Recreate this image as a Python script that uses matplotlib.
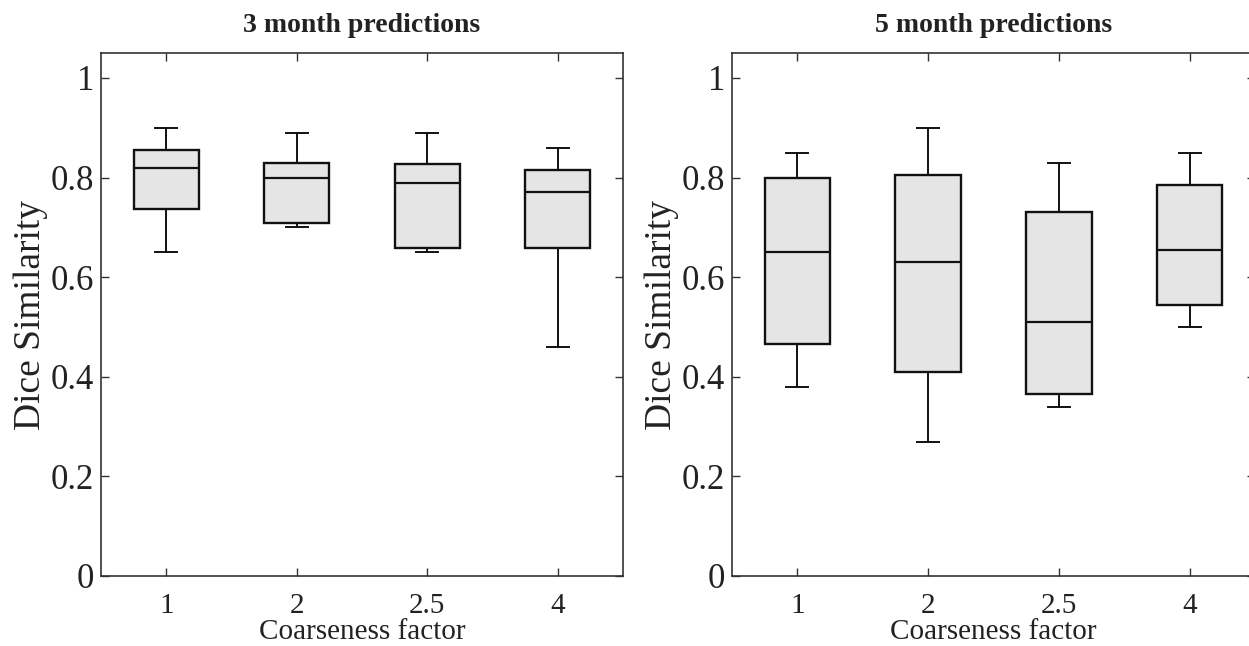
import matplotlib
matplotlib.use('Agg')
import matplotlib.pyplot as plt

plt.rcParams['font.family'] = ['Liberation Serif', 'DejaVu Serif']

# coarseness factors (categories)
factors = ['1', '2', '2.5', '4']

# 3 month predictions: whisker low, Q1, median, Q3, whisker high
m3_low = [0.65, 0.70, 0.65, 0.46]
m3_q1 = [0.737, 0.708, 0.658, 0.658]
m3_med = [0.82, 0.80, 0.79, 0.77]
m3_q3 = [0.855, 0.83, 0.828, 0.815]
m3_high = [0.90, 0.89, 0.89, 0.86]

# 5 month predictions
m5_low = [0.38, 0.27, 0.34, 0.50]
m5_q1 = [0.465, 0.41, 0.365, 0.545]
m5_med = [0.65, 0.63, 0.51, 0.655]
m5_q3 = [0.80, 0.805, 0.73, 0.785]
m5_high = [0.85, 0.90, 0.83, 0.85]

titles = ['3 month predictions', '5 month predictions']
yticks = [0, 0.2, 0.4, 0.6, 0.8, 1]
yticklabels = ['0', '0.2', '0.4', '0.6', '0.8', '1']

txt = '#222222'


def make_stats(lo, q1, med, q3, hi):
    stats = []
    for i in range(len(lo)):
        stats.append({'whislo': lo[i], 'q1': q1[i], 'med': med[i],
                      'q3': q3[i], 'whishi': hi[i], 'fliers': []})
    return stats


fig = plt.figure(figsize=(12.49, 6.46), dpi=100)
W, H = 1249.0, 646.0
ax1 = fig.add_axes([101 / W, 70 / H, 522 / W, 523 / H])
ax2 = fig.add_axes([732 / W, 70 / H, 523 / W, 523 / H])

data = [make_stats(m3_low, m3_q1, m3_med, m3_q3, m3_high),
        make_stats(m5_low, m5_q1, m5_med, m5_q3, m5_high)]

for ax, st, title in zip([ax1, ax2], data, titles):
    ax.bxp(st, positions=[1, 2, 3, 4], widths=0.5, capwidths=0.17,
           showfliers=False, patch_artist=True,
           boxprops=dict(facecolor='#e5e5e5', edgecolor='#111111', linewidth=1.7),
           medianprops=dict(color='#111111', linewidth=1.6),
           whiskerprops=dict(color='#111111', linewidth=1.4),
           capprops=dict(color='#111111', linewidth=1.4))
    ax.set_xlim(0.5, 4.5)
    ax.set_ylim(0, 1.05)
    ax.set_xticks([1, 2, 3, 4])
    ax.set_xticklabels(factors, fontsize=21, color=txt)
    ax.set_yticks(yticks)
    ax.set_yticklabels(yticklabels, fontsize=25, color=txt)
    ax.tick_params(direction='in', length=6, width=1, color='#333333',
                   top=True, right=True)
    ax.tick_params(axis='x', pad=12)
    ax.tick_params(axis='y', pad=5)
    for s in ax.spines.values():
        s.set_color('#333333')
        s.set_linewidth(1.2)
    ax.set_title(title, fontsize=20, fontweight='bold', color=txt, pad=15)
    ax.set_xlabel('Coarseness factor', fontsize=21, color=txt, labelpad=0)
    ax.set_ylabel('Dice Similarity', fontsize=27, color=txt, labelpad=2)

fig.savefig('out.png', dpi=100)
